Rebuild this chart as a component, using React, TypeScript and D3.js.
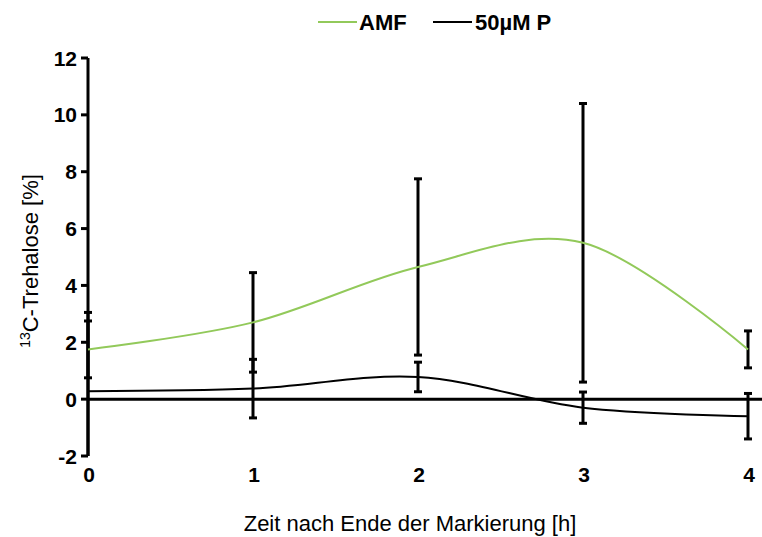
import React from "react";
import * as d3 from "d3";

// Time after end of labelling (h)
const hours = [0, 1, 2, 3, 4];

// Mean 13C-trehalose (%) and error (±) for each treatment
const amfMean = [1.75, 2.7, 4.65, 5.5, 1.75];
const amfErr = [1.0, 1.75, 3.1, 4.9, 0.65];
const pMean = [0.28, 0.37, 0.78, -0.3, -0.6];
const pErr = [2.77, 1.03, 0.52, 0.55, 0.8];

const yTicks = [-2, 0, 2, 4, 6, 8, 10, 12];
const xTicks = [0, 1, 2, 3, 4];

const seriesNames = ["AMF", "50µM P"];
const seriesColors = ["#92C95A", "#000000"];

const W = 762;
const H = 537;
const FONT = "'Liberation Sans', Arial, sans-serif";

export default function App() {
  const x = d3.scaleLinear().domain([0, 4]).range([88, 748]);
  const y = d3.scaleLinear().domain([-2, 12]).range([456, 58]);
  const plotRight = W;

  const line = d3
    .line<number>()
    .x((_, i) => x(hours[i]))
    .y((d) => y(d))
    .curve(d3.curveCardinal.tension(0));

  const series = [
    { mean: amfMean, err: amfErr, color: seriesColors[0] },
    { mean: pMean, err: pErr, color: seriesColors[1] },
  ];

  const clamp = (v: number) => Math.max(-2, Math.min(12, v));
  const capHalf = 4;

  return (
    <svg
      width={W}
      height={H}
      style={{ position: "absolute", left: 0, top: 0, background: "#fff" }}
      fontFamily={FONT}
    >
      <defs>
        <clipPath id="plot">
          <rect x={x(0) - 10} y={y(12) - 2} width={plotRight - x(0) + 10} height={y(-2) - y(12) + 4} />
        </clipPath>
      </defs>

      {/* legend */}
      <g>
        <line x1={318} x2={357} y1={22} y2={22} stroke={seriesColors[0]} strokeWidth={2} />
        <text x={359} y={30} fontSize={22} fontWeight="bold">
          {seriesNames[0]}
        </text>
        <line x1={433} x2={472} y1={22} y2={22} stroke={seriesColors[1]} strokeWidth={2} />
        <text x={475} y={30} fontSize={22} fontWeight="bold">
          {seriesNames[1]}
        </text>
      </g>

      {/* y axis */}
      <line x1={x(0)} x2={x(0)} y1={y(12)} y2={y(-2)} stroke="#000" strokeWidth={3} />
      {yTicks.map((t) => (
        <g key={t}>
          <line x1={x(0) - 7} x2={x(0)} y1={y(t)} y2={y(t)} stroke="#000" strokeWidth={3} />
          <text x={77} y={y(t)} dy="0.36em" textAnchor="end" fontSize={21} fontWeight="bold">
            {t}
          </text>
        </g>
      ))}

      {/* zero line */}
      <line x1={x(0)} x2={plotRight} y1={y(0)} y2={y(0)} stroke="#000" strokeWidth={3} />

      {/* x tick labels */}
      {xTicks.map((t) => (
        <text key={t} x={x(t) + 1} y={482} textAnchor="middle" fontSize={21} fontWeight="bold">
          {t}
        </text>
      ))}

      <g clipPath="url(#plot)">
        {/* error bars */}
        {series.map((s, si) =>
          hours.map((h, i) => {
            const hi = s.mean[i] + s.err[i];
            const lo = s.mean[i] - s.err[i];
            const cx = x(h);
            return (
              <g key={`${si}-${i}`} stroke="#000" strokeWidth={3}>
                <line x1={cx} x2={cx} y1={y(clamp(hi))} y2={y(clamp(lo))} />
                {hi <= 12 && <line x1={cx - capHalf} x2={cx + capHalf} y1={y(hi)} y2={y(hi)} />}
                {lo >= -2 && <line x1={cx - capHalf} x2={cx + capHalf} y1={y(lo)} y2={y(lo)} />}
              </g>
            );
          })
        )}

        {/* smoothed series lines */}
        {series.map((s, si) => (
          <path key={si} d={line(s.mean) ?? ""} fill="none" stroke={s.color} strokeWidth={2} />
        ))}
      </g>

      {/* axis titles */}
      <text x={410} y={531} textAnchor="middle" fontSize={22}>
        Zeit nach Ende der Markierung [h]
      </text>
      <text
        transform={`translate(38, ${(y(12) + y(-2)) / 2 + 4}) rotate(-90)`}
        textAnchor="middle"
        fontSize={22}
      >
        <tspan fontSize={14} dy="-8">13</tspan>
        <tspan dy="8">C-Trehalose [%]</tspan>
      </text>
    </svg>
  );
}
